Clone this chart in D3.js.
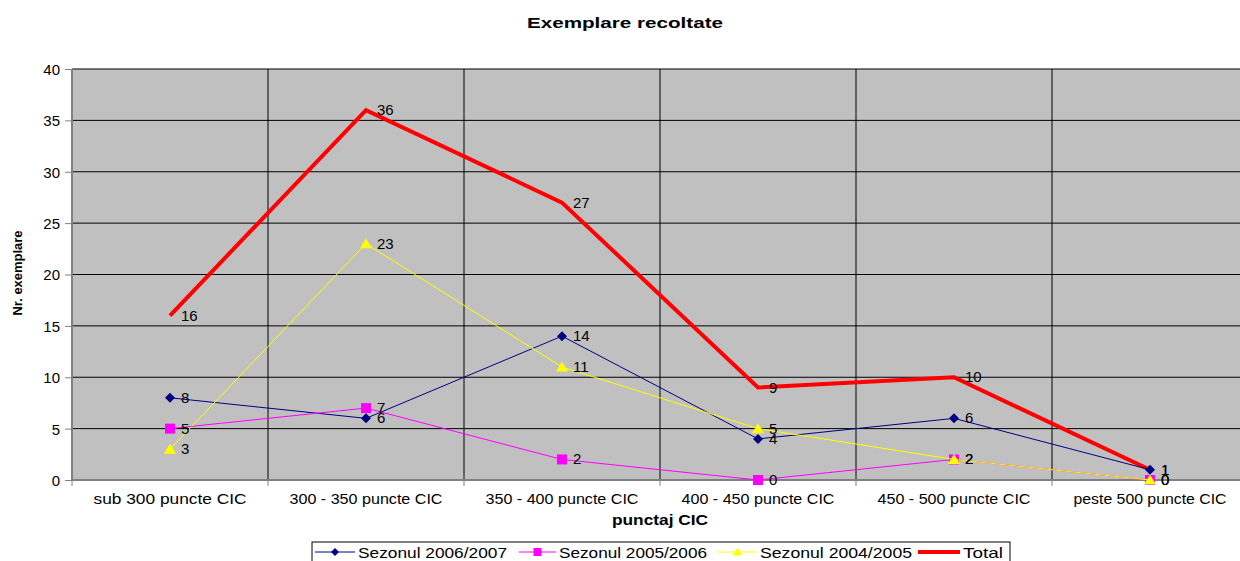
<!DOCTYPE html>
<html>
<head>
<meta charset="utf-8">
<script src="https://d3js.org/d3.v7.min.js"></script>
<style>
    body { margin: 0; background: #fff; }
    svg { font-family: "Liberation Sans", Arial, sans-serif; display: block; }
    .grid line { stroke: #000; stroke-width: 1; }
    .axis path, .axis line { stroke: #808080; }
    .axis text { fill: #000; font-size: 15px; }
    .lbl { font-size: 15px; fill: #000; }
</style>
</head>
<body>
<div id="chart"></div>
<script>
    let categories = ["sub 300 puncte CIC", "300 - 350 puncte CIC", "350 - 400 puncte CIC",
        "400 - 450 puncte CIC", "450 - 500 puncte CIC", "peste 500 puncte CIC"];
    let sezon0607 = [8, 6, 14, 4, 6, 1];
    let sezon0506 = [5, 7, 2, 0, 2, 0];
    let sezon0405 = [3, 23, 11, 5, 2, 0];
    let total = [16, 36, 27, 9, 10, 1];
    let yTicks = [0, 5, 10, 15, 20, 25, 30, 35, 40];

    let series = [
        {name: "Total", values: total, color: "#ff0000", width: 4, marker: null},
        {name: "Sezonul 2006/2007", values: sezon0607, color: "#000080", width: 1, marker: "diamond"},
        {name: "Sezonul 2005/2006", values: sezon0506, color: "#ff00ff", width: 1, marker: "square"},
        {name: "Sezonul 2004/2005", values: sezon0405, color: "#ffff00", width: 1, marker: "triangle"}
    ];
    let legendOrder = ["Sezonul 2006/2007", "Sezonul 2005/2006", "Sezonul 2004/2005", "Total"];

    let W = 1240, H = 561;
    let margin = {top: 69, left: 72, bottom: 81};
    let plotW = 1176, plotH = H - margin.top - margin.bottom;

    // the original picture is slightly stretched sideways, so widen the texts to fit
    function stretch(sel, w) {
        sel.attr("textLength", w).attr("lengthAdjust", "spacingAndGlyphs");
    }

    let svg = d3.select("#chart").append("svg").attr("width", W).attr("height", H);

    let x = d3.scaleBand().domain(categories).range([0, plotW]);
    let y = d3.scaleLinear().domain([0, 40]).range([plotH, 0]);

    let g = svg.append("g").attr("transform", "translate(" + margin.left + "," + margin.top + ")");

    g.append("rect").attr("width", plotW).attr("height", plotH).attr("fill", "#c0c0c0");

    // horizontal grid
    g.append("g").attr("class", "grid")
        .selectAll("line").data(yTicks.slice(1)).enter().append("line")
        .attr("x1", 0).attr("x2", plotW)
        .attr("y1", d => y(d)).attr("y2", d => y(d));

    // vertical grid at category boundaries
    g.append("g").attr("class", "grid")
        .selectAll("line").data(categories.slice(1)).enter().append("line")
        .attr("x1", d => x(d)).attr("x2", d => x(d))
        .attr("y1", 0).attr("y2", plotH);

    // y axis
    let yAxis = d3.axisLeft(y).tickValues(yTicks).tickSize(7).tickPadding(5);
    g.append("g").attr("class", "axis").call(yAxis)
        .call(s => s.select(".domain").attr("d", "M0," + plotH + "V0").attr("stroke-width", 2))
        .call(s => s.selectAll(".tick text").attr("dy", "0.36em"));

    // x axis
    let xg = g.append("g").attr("class", "axis").attr("transform", "translate(0," + plotH + ")");
    xg.append("line").attr("x1", 0).attr("x2", plotW).attr("stroke", "#808080").attr("stroke-width", 2);
    xg.selectAll(".tk").data(categories).enter().append("line").attr("class", "tk")
        .attr("x1", d => x(d)).attr("x2", d => x(d)).attr("y1", 0).attr("y2", 6);
    xg.selectAll(".cl").data(categories).enter().append("text").attr("class", "cl")
        .attr("x", d => x(d) + x.bandwidth() / 2).attr("y", 24)
        .attr("text-anchor", "middle").text(d => d)
        .call(stretch, 153);

    let cx = i => x(categories[i]) + x.bandwidth() / 2;

    let line = d3.line().x((d, i) => cx(i)).y(d => y(d));

    function marker(sel, type, color, px, py, k) {
        k = k || 1;
        let t = "translate(" + px + "," + py + ") scale(" + k + ")";
        if (type === "diamond") {
            sel.append("path").attr("d", "M0,-5L5,0L0,5L-5,0Z").attr("transform", t).attr("fill", color);
        } else if (type === "square") {
            sel.append("path").attr("d", "M-5,-5H5V5H-5Z").attr("transform", t).attr("fill", color);
        } else if (type === "triangle") {
            sel.append("path").attr("d", "M0,-5.5L6,4.5L-6,4.5Z").attr("transform", t).attr("fill", color);
        }
    }

    series.forEach(function(s) {
        let sg = g.append("g");
        sg.append("path").datum(s.values).attr("d", line)
            .attr("fill", "none").attr("stroke", s.color).attr("stroke-width", s.width)
            .attr("stroke-linejoin", "miter");
        s.values.forEach(function(v, i) {
            marker(sg, s.marker, s.color, cx(i), y(v));
        });
    });

    // data labels on top
    series.forEach(function(s) {
        g.append("g").selectAll("text").data(s.values).enter().append("text")
            .attr("class", "lbl")
            .attr("x", (d, i) => cx(i) + 11).attr("y", d => y(d) + 5)
            .text(d => d);
    });

    // title
    svg.append("text").attr("x", 625).attr("y", 28).attr("text-anchor", "middle")
        .attr("font-size", "15px").attr("font-weight", "bold").text("Exemplare recoltate")
        .call(stretch, 196);

    // axis titles
    svg.append("text").attr("x", margin.left + plotW / 2).attr("y", 525).attr("text-anchor", "middle")
        .attr("font-size", "15px").attr("font-weight", "bold").text("punctaj CIC")
        .call(stretch, 96);
    svg.append("text").attr("transform", "translate(22,273) rotate(-90)")
        .attr("text-anchor", "middle").attr("font-size", "13px").attr("font-weight", "bold")
        .text("Nr. exemplare")
        .call(stretch, 85);

    // legend
    let lg = svg.append("g");
    lg.append("rect").attr("x", 312).attr("y", 542).attr("width", 698).attr("height", 30)
        .attr("fill", "#fff").attr("stroke", "#000");
    let legX = [315, 519, 718, 918];
    let legS = [40, 37, 39, 42];
    let legW = [149, 148, 152, 40];
    legendOrder.forEach(function(name, i) {
        let s = series.find(d => d.name === name);
        let x0 = legX[i], sw = legS[i];
        lg.append("line").attr("x1", x0).attr("x2", x0 + sw).attr("y1", 552).attr("y2", 552)
            .attr("stroke", s.color).attr("stroke-width", s.width);
        marker(lg, s.marker, s.color, x0 + sw / 2, 552, 0.8);
        lg.append("text").attr("x", x0 + sw + 3).attr("y", 558).attr("font-size", "15px").text(name)
            .call(stretch, legW[i]);
    });
</script>
</body>
</html>
